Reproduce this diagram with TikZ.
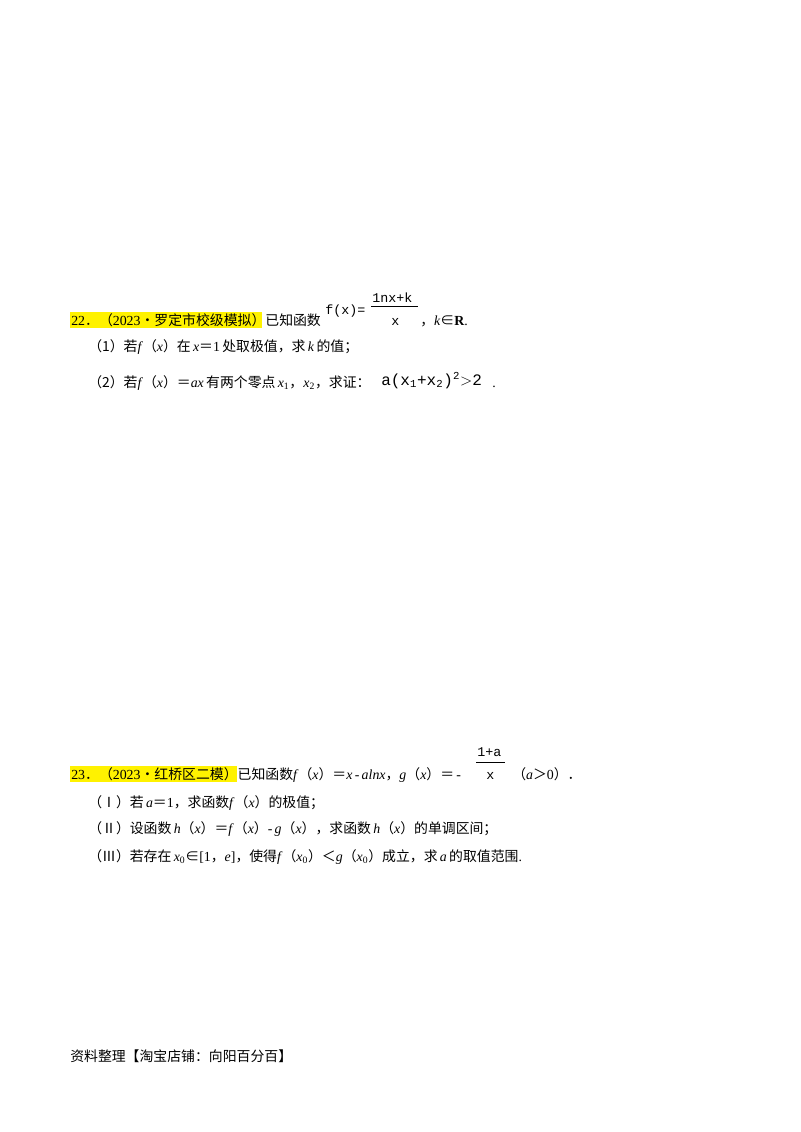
\documentclass[tikz,border=0pt]{standalone}
\usepackage{fontspec}
\setmainfont{Liberation Serif}
\newfontfamily\cjk{Noto Sans CJK SC}
\newfontfamily\mono{Liberation Mono}
\newcommand{\C}[1]{{\cjk #1}}
\tikzset{txt/.style={anchor=base west,inner sep=0pt,font=\fontsize{10.4}{12}\selectfont},
 hl/.style={fill=yellow,draw=none},
 img/.style={anchor=base west,inner sep=0pt,font=\mono\fontsize{10}{12}\selectfont}}
\begin{document}
\begin{tikzpicture}[x=0.75pt,y=-0.75pt]
\useasboundingbox (0,0) rectangle (800,1132);
\fill[white] (0,0) rectangle (800,1132);
% Problem 22
\fill[hl] (70,312) rectangle (262,328);
\node[txt] (p22) at (71,325) {22\C{．（}2023\C{•罗定市校级模拟）已知函数}};
\node[img] (f22) at (325,314) {f(x)=};
\node[img] (n22) at (372,302) {1nx+k};
\draw (371,306) -- (418,306);
\node[img] (d22) at (391,325) {x};
\node[txt] (k22) at (420,325) {\C{，}\textit{k}\C{∈}\textbf{R}.};
\node[txt] (q1) at (88,351) {\C{（1）若}\textit{f}\C{（}\textit{x}\C{）在}\,\textit{x}\C{＝}1\,\C{处取极值，求}\,\textit{k}\,\C{的值；}};
\node[txt] (q2) at (88,387) {\C{（2）若}\textit{f}\C{（}\textit{x}\C{）＝}\textit{ax}\,\C{有两个零点}\,\textit{x}\textsubscript{1}\C{，}\textit{x}\textsubscript{2}\C{，求证：}};
\node[img,font=\mono\fontsize{12}{14}\selectfont] (ineq) at (381,385) {a(x\textsubscript{1}+x\textsubscript{2})\textsuperscript{2}$>$2};
\node[txt] (dot) at (492,387) {.};
% Problem 23
\fill[hl] (70,766) rectangle (237,782);
\node[txt] (p23) at (71,779) {23\C{．（}2023\C{•红桥区二模）已知函数}\textit{f}\C{（}\textit{x}\C{）＝}\textit{x}\,-\,\textit{alnx}\C{，}\textit{g}\C{（}\textit{x}\C{）＝}\,-};
\node[img] (n23) at (477,756) {1+a};
\draw (476,762) -- (505,762);
\node[img] (d23) at (486,779) {x};
\node[txt] (a23) at (512,779) {\C{（}\textit{a}\C{＞}0\C{）．}};
\node[txt] (r1) at (88,807) {\C{（Ⅰ）若}\,\textit{a}\C{＝}1\C{，求函数}\textit{f}\C{（}\textit{x}\C{）的极值；}};
\node[txt] (r2) at (88,833) {\C{（Ⅱ）设函数}\,\textit{h}\C{（}\textit{x}\C{）＝}\textit{f}\C{（}\textit{x}\C{）}-\,\textit{g}\C{（}\textit{x}\C{），求函数}\,\textit{h}\C{（}\textit{x}\C{）的单调区间；}};
\node[txt] (r3) at (88,861) {\C{（Ⅲ）若存在}\,\textit{x}\textsubscript{0}\C{∈}[1\C{，}\textit{e}]\C{，使得}\textit{f}\C{（}\textit{x}\textsubscript{0}\C{）＜}\textit{g}\C{（}\textit{x}\textsubscript{0}\C{）成立，求}\,\textit{a}\,\C{的取值范围}.};
% footer
\node[txt] (foot) at (70,1061) {\C{资料整理【淘宝店铺：向阳百分百】}};
\end{tikzpicture}
\end{document}
